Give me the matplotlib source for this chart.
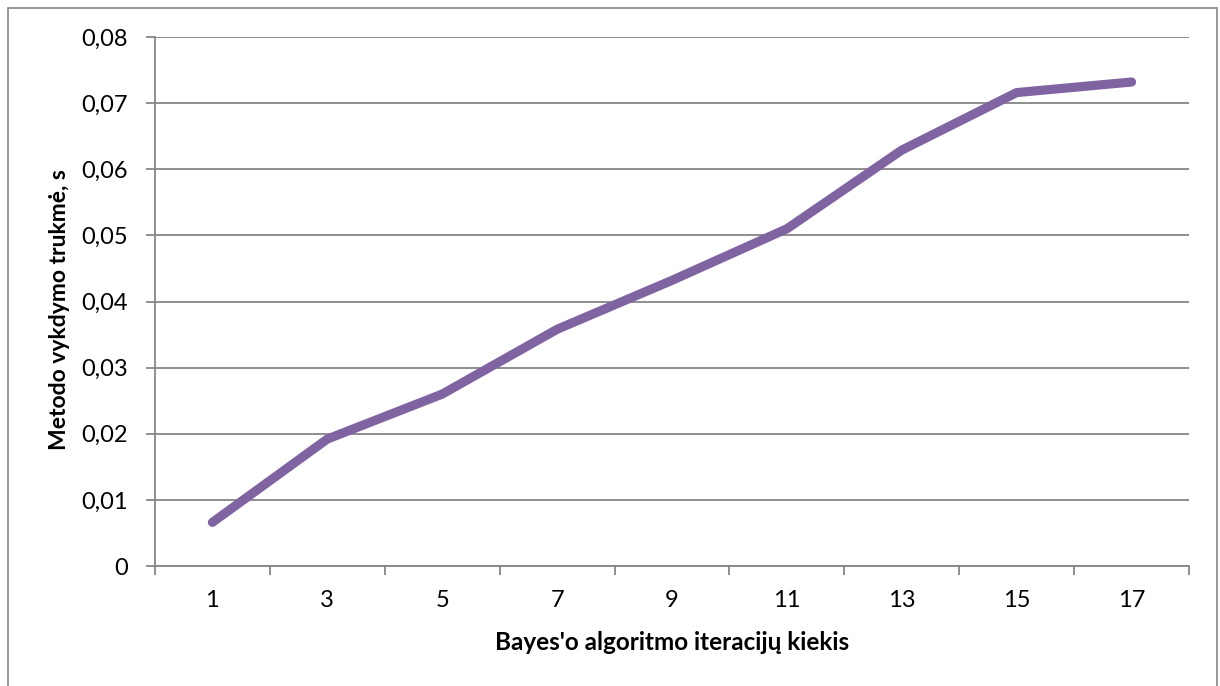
import matplotlib
matplotlib.use("Agg")
import matplotlib.pyplot as plt
from matplotlib.patches import Rectangle
from matplotlib.ticker import FixedLocator, FuncFormatter

plt.rcParams['font.family'] = ['Lato', 'DejaVu Sans']

iterations = ["1", "3", "5", "7", "9", "11", "13", "15", "17"]
duration_s = [0.0066, 0.0192, 0.0260, 0.0358, 0.0432, 0.0510, 0.0629, 0.0716, 0.0732]
y_ticks = [0.0, 0.01, 0.02, 0.03, 0.04, 0.05, 0.06, 0.07, 0.08]

grey = "#868686"
purple = "#8064A2"

fig = plt.figure(figsize=(12.2, 6.86), dpi=100)
ax = fig.add_axes([0.127, 0.1749, 0.8476, 0.7711])

# outer chart frame
fig.patches.append(Rectangle((8 / 1220, -0.05), 1209 / 1220, 1 - 8 / 686 + 0.05,
                             transform=fig.transFigure, fill=False,
                             edgecolor=grey, linewidth=1.2))

x = list(range(len(iterations)))
ax.plot(x, duration_s, color=purple, linewidth=6.6, solid_capstyle='round',
        solid_joinstyle='round', zorder=3)

ax.set_xlim(-0.5, len(iterations) - 0.5)
ax.set_ylim(0, 0.08)

ax.yaxis.set_major_locator(FixedLocator(y_ticks))
ax.yaxis.set_major_formatter(FuncFormatter(
    lambda v, p: "0" if abs(v) < 1e-12 else f"{v:.2f}".replace(".", ",")))
ax.grid(axis='y', color=grey, linewidth=1.3)
ax.set_axisbelow(True)

# category boundaries carry the tick marks, centres carry the labels
ax.xaxis.set_major_locator(FixedLocator([i - 0.5 for i in range(len(iterations) + 1)]))
ax.xaxis.set_major_formatter(FuncFormatter(lambda v, p: ""))
ax.xaxis.set_minor_locator(FixedLocator(x))
ax.xaxis.set_minor_formatter(FuncFormatter(lambda v, p: iterations[int(round(v))]))

ax.tick_params(axis='x', which='major', length=6.5, width=1.3, color=grey, direction='out')
ax.tick_params(axis='x', which='minor', length=0, pad=17, labelsize=17)
ax.tick_params(axis='y', which='major', length=6.5, width=1.3, color=grey,
               pad=13, labelsize=17)

for side in ('top', 'right'):
    ax.spines[side].set_visible(False)
for side in ('left', 'bottom'):
    ax.spines[side].set_color(grey)
    ax.spines[side].set_linewidth(1.3)

ax.set_xlabel("Bayes'o algoritmo iteracijų kiekis", fontsize=17.5, fontweight='bold',
              labelpad=15)
ax.set_ylabel("Metodo vykdymo trukmė, s", fontsize=16.5, fontweight='bold')
ax.yaxis.set_label_coords(-0.082, 0.485)

fig.savefig("out.png", dpi=100)
